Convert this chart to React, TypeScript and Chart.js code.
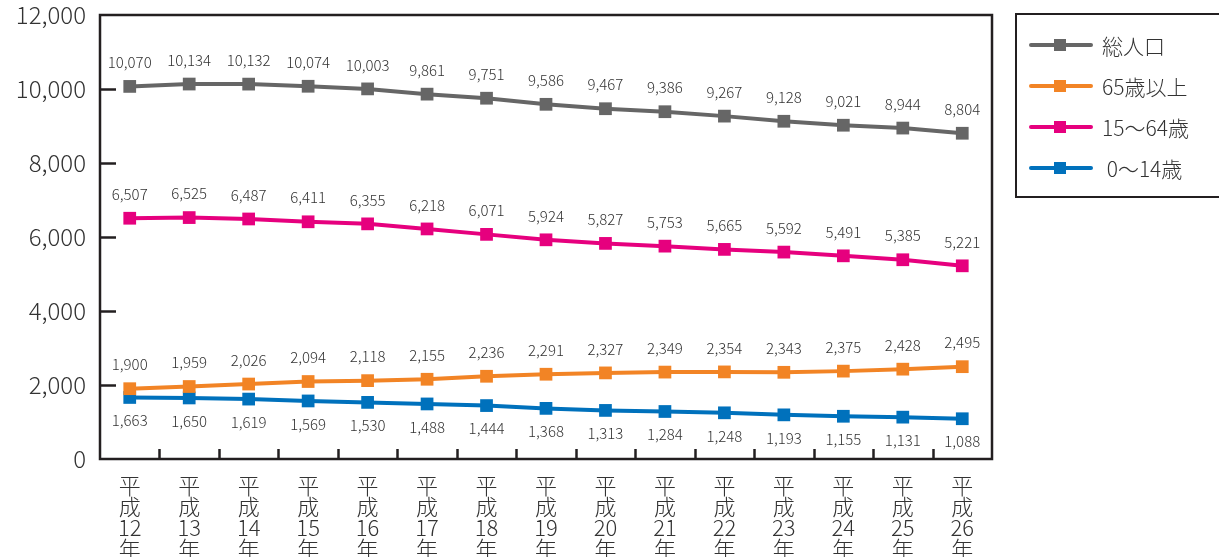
import React, { useEffect, useRef } from "react";
import { Chart, registerables } from "chart.js";

Chart.register(...registerables);

const categories = ["12", "13", "14", "15", "16", "17", "18", "19", "20", "21", "22", "23", "24", "25", "26"];
const totalPop = [10070, 10134, 10132, 10074, 10003, 9861, 9751, 9586, 9467, 9386, 9267, 9128, 9021, 8944, 8804];
const age65plus = [1900, 1959, 2026, 2094, 2118, 2155, 2236, 2291, 2327, 2349, 2354, 2343, 2375, 2428, 2495];
const age15to64 = [6507, 6525, 6487, 6411, 6355, 6218, 6071, 5924, 5827, 5753, 5665, 5592, 5491, 5385, 5221];
const age0to14 = [1663, 1650, 1619, 1569, 1530, 1488, 1444, 1368, 1313, 1284, 1248, 1193, 1155, 1131, 1088];
const seriesNames = ["総人口", "65歳以上", "15〜64歳", " 0〜14歳"];
const seriesColors = ["#666666", "#F28425", "#E6007E", "#0071BC"];
const yTicks = [0, 2000, 4000, 6000, 8000, 10000, 12000];

const FONT = '"Noto Sans CJK JP", "Noto Sans", sans-serif';
const INK = "#231f20";

export default function App() {
  const ref = useRef<HTMLCanvasElement | null>(null);

  useEffect(() => {
    document.body.style.margin = "0";
    const canvas = ref.current;
    if (!canvas) return;

    const overlay = {
      id: "overlay",
      afterDatasetsDraw(chart: any) {
        const ctx = chart.ctx;
        const { left, right, top, bottom } = chart.chartArea;
        const ys = chart.scales.y;
        ctx.save();
        ctx.strokeStyle = INK;
        ctx.lineWidth = 2.5;
        ctx.strokeRect(left, top, right - left, bottom - top);
        yTicks.forEach((v) => {
          if (v === 0 || v === 12000) return;
          const y = Math.round(ys.getPixelForValue(v)) + 0.5;
          ctx.beginPath();
          ctx.moveTo(left, y);
          ctx.lineTo(left + 16, y);
          ctx.stroke();
        });
        const step = (right - left) / categories.length;
        for (let k = 1; k < categories.length; k++) {
          const x = Math.round(left + step * k) + 0.5;
          ctx.beginPath();
          ctx.moveTo(x, bottom);
          ctx.lineTo(x, bottom - 10);
          ctx.stroke();
        }
        ctx.font = `300 15px ${FONT}`;
        ctx.fillStyle = "#333333";
        ctx.textAlign = "center";
        ctx.textBaseline = "middle";
        chart.data.datasets.forEach((ds: any, di: number) => {
          const meta = chart.getDatasetMeta(di);
          meta.data.forEach((pt: any, i: number) => {
            const v = ds.data[i];
            const txt = v.toLocaleString("en-US");
            const dy = di === 3 ? 23 : -24;
            ctx.fillText(txt, pt.x, pt.y + dy);
          });
        });
        ctx.strokeStyle = INK;
        ctx.lineWidth = 2;
        ctx.strokeRect(1016, 14, 210, 183);
        ctx.font = `300 21px ${FONT}`;
        ctx.textAlign = "left";
        const rowsY = [45, 86, 127, 168];
        seriesNames.forEach((name, i) => {
          const y = rowsY[i];
          ctx.strokeStyle = seriesColors[i];
          ctx.lineWidth = 4;
          ctx.lineCap = "round";
          ctx.beginPath();
          ctx.moveTo(1031, y);
          ctx.lineTo(1091, y);
          ctx.stroke();
          ctx.fillStyle = seriesColors[i];
          ctx.fillRect(1054, y - 6, 12, 12);
          ctx.fillStyle = "#333333";
          ctx.fillText(name, 1102, y + 1);
        });
        ctx.restore();
      },
    };

    const mk = (label: string, data: number[], color: string) => ({
      label,
      data,
      borderColor: color,
      backgroundColor: color,
      borderWidth: 4,
      pointStyle: "rect",
      pointRadius: 9,
      pointHoverRadius: 9,
      pointBorderWidth: 0,
      tension: 0,
    });

    const chart = new Chart(canvas, {
      type: "line",
      data: {
        labels: categories.map((c) => ["平", "成", c, "年"]),
        datasets: [
          mk(seriesNames[0], totalPop, seriesColors[0]),
          mk(seriesNames[1], age65plus, seriesColors[1]),
          mk(seriesNames[2], age15to64, seriesColors[2]),
          mk(seriesNames[3], age0to14, seriesColors[3]),
        ],
      },
      options: {
        responsive: false,
        animation: false,
        layout: { padding: { top: 15, right: 227, left: 0, bottom: 0 } },
        plugins: { legend: { display: false }, tooltip: { enabled: false } },
        scales: {
          x: {
            type: "category",
            offset: true,
            grid: { display: false, drawTicks: false },
            border: { display: false },
            ticks: {
              maxRotation: 0,
              autoSkip: false,
              padding: 16,
              color: "#333333",
              font: { family: FONT, size: 22, lineHeight: 0.96, weight: "300" },
            },
            afterFit: (s: any) => {
              s.height = 98;
              s.paddingLeft = 0;
              s.paddingRight = 0;
            },
          },
          y: {
            min: 0,
            max: 12000,
            grid: { display: false, drawTicks: false },
            border: { display: false },
            afterBuildTicks: (s: any) => {
              s.ticks = yTicks.map((v) => ({ value: v }));
            },
            ticks: {
              padding: 14,
              color: "#333333",
              font: { family: FONT, size: 24, weight: "300" },
              callback: (v: any) => Number(v).toLocaleString("en-US"),
            },
            afterFit: (s: any) => {
              s.width = 100;
              s.paddingTop = 0;
              s.paddingBottom = 0;
            },
          },
        },
      },
      plugins: [overlay],
    } as any);

    return () => chart.destroy();
  }, []);

  return <canvas ref={ref} width={1219} height={557} style={{ display: "block" }} />;
}
